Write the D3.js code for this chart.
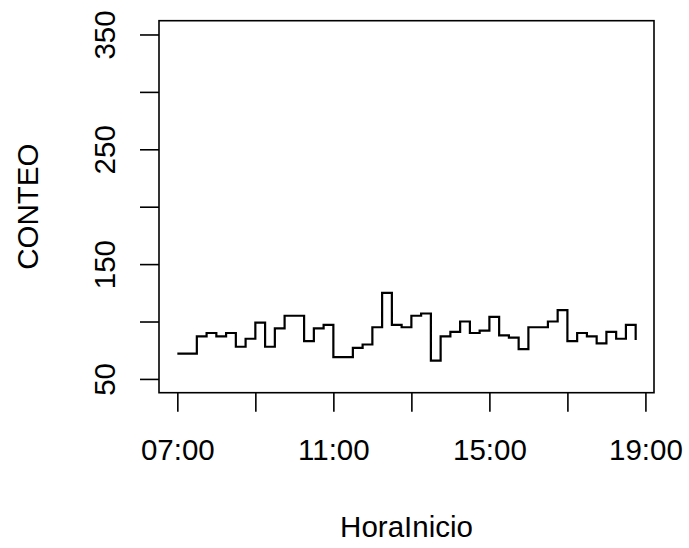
<!DOCTYPE html>
<html>
<head>
<meta charset="utf-8">
<script src="https://cdn.jsdelivr.net/npm/d3@7"></script>
<style>
  html, body { margin: 0; padding: 0; background: #fff; }
  svg { display: block; }
  text { font-family: "Liberation Sans", Arial, sans-serif; fill: #000; }
</style>
</head>
<body>
<svg id="chart" width="689" height="548"></svg>
<script>
// ---- data ----
const times = ["07:00","07:15","07:30","07:45","08:00","08:15","08:30","08:45",
  "09:00","09:15","09:30","09:45","10:00","10:15","10:30","10:45",
  "11:00","11:15","11:30","11:45","12:00","12:15","12:30","12:45",
  "13:00","13:15","13:30","13:45","14:00","14:15","14:30","14:45",
  "15:00","15:15","15:30","15:45","16:00","16:15","16:30","16:45",
  "17:00","17:15","17:30","17:45","18:00","18:15","18:30","18:45"];
const counts = [72,72,87,90,87,90,78,85,
  99,78,94,105,105,83,94,97,
  69,69,77,80,95,125,97,95,
  105,107,66,87,91,100,90,92,
  104,88,86,76,95,95,100,110,
  83,90,87,81,91,85,97,84];
const xTickTimes = ["07:00","09:00","11:00","13:00","15:00","17:00","19:00"];
const xTickLabels = ["07:00","","11:00","","15:00","","19:00"];
const yTicks = [50,100,150,200,250,300,350];
const yTickLabels = ["50","","150","","250","","350"];
const yLimits = [50,350];
const xTitle = "HoraInicio";
const yTitle = "CONTEO";

// ---- layout ----
const svg = d3.select("#chart");
const plot = {left:159, right:654, top:20.7, bottom:392.7};
const toMin = s => { const [h,m] = s.split(":").map(Number); return h*60+m; };

const data = times.map((t,i) => ({x: toMin(t), y: counts[i]}));
const xExt = d3.extent(data, d => d.x);
const xPad = (xExt[1]-xExt[0])*0.04;
const yPad = (yLimits[1]-yLimits[0])*0.04;

const x = d3.scaleLinear().domain([xExt[0]-xPad, xExt[1]+xPad]).range([plot.left, plot.right]);
const y = d3.scaleLinear().domain([yLimits[0]-yPad, yLimits[1]+yPad]).range([plot.bottom, plot.top]);

const FS = 29.5;
const FF = '"Liberation Sans", Arial, sans-serif';

// box
svg.append("rect")
  .attr("x", plot.left).attr("y", plot.top)
  .attr("width", plot.right-plot.left).attr("height", plot.bottom-plot.top)
  .attr("fill","none").attr("stroke","#000").attr("stroke-width",1.6);

// x axis
const xAxis = d3.axisBottom(x)
  .tickValues(xTickTimes.map(toMin))
  .tickSize(19).tickSizeOuter(0)
  .tickFormat((d,i) => xTickLabels[i]);
const gx = svg.append("g").attr("transform", `translate(0,${plot.bottom})`).call(xAxis);
gx.select(".domain").remove();
gx.selectAll(".tick line").attr("stroke","#000").attr("stroke-width",1.6);
gx.selectAll(".tick text")
  .attr("y", 67).attr("dy", null)
  .style("font-size", FS+"px")
  .style("font-family", FF)
  .attr("fill","#000");

// y axis
const yAxis = d3.axisLeft(y)
  .tickValues(yTicks)
  .tickSize(19).tickSizeOuter(0)
  .tickFormat((d,i) => yTickLabels[i]);
const gy = svg.append("g").attr("transform", `translate(${plot.left},0)`).call(yAxis);
gy.select(".domain").remove();
gy.selectAll(".tick line").attr("stroke","#000").attr("stroke-width",1.6);
gy.selectAll(".tick text")
  .attr("x", null).attr("dy", null)
  .attr("transform", "translate(-44,0) rotate(-90)")
  .attr("text-anchor","middle")
  .style("font-size", FS+"px")
  .style("font-family", FF)
  .attr("fill","#000");

// step line
const line = d3.line().x(d => x(d.x)).y(d => y(d.y)).curve(d3.curveStepAfter);
svg.append("path").datum(data)
  .attr("d", line)
  .attr("fill","none").attr("stroke","#000").attr("stroke-width",2.2)
  .attr("stroke-linejoin","miter").attr("stroke-linecap","butt");

// titles
svg.append("text")
  .attr("x", (plot.left+plot.right)/2).attr("y", 537)
  .attr("text-anchor","middle").style("font-size", FS+"px")
  .text(xTitle);
svg.append("text")
  .attr("transform", `translate(38,${(plot.top+plot.bottom)/2}) rotate(-90)`)
  .attr("text-anchor","middle").style("font-size", FS+"px")
  .text(yTitle);
</script>
</body>
</html>
